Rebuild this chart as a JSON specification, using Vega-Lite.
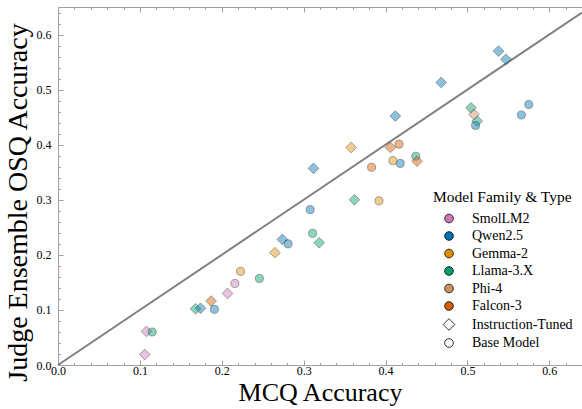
{
  "$schema": "https://vega.github.io/schema/vega-lite/v6.json",
  "width": 524,
  "height": 358,
  "autosize": {"type": "none"},
  "padding": {"left": 58, "top": 7, "right": 0, "bottom": 44},
  "background": "white",
  "config": {
    "font": "Liberation Serif",
    "view": {"stroke": null},
    "axis": {
      "grid": false,
      "domainColor": "#a0a0a0",
      "domainWidth": 1,
      "tickColor": "#a0a0a0",
      "tickWidth": 1,
      "labelFont": "Liberation Serif",
      "labelColor": "black",
      "labelFontSize": 12,
      "labelFlush": false,
      "labelOverlap": false,
      "titleFont": "Liberation Serif",
      "titleColor": "black",
      "titleFontWeight": "normal"
    },
    "legend": {
      "labelFont": "Liberation Serif",
      "titleFont": "Liberation Serif"
    }
  },
  "datasets": {
    "models": [
      {"family": "SmolLM2", "type": "Instruction-Tuned", "mcq": 0.106, "osq": 0.019},
      {"family": "SmolLM2", "type": "Instruction-Tuned", "mcq": 0.108, "osq": 0.061},
      {"family": "SmolLM2", "type": "Instruction-Tuned", "mcq": 0.207, "osq": 0.130},
      {"family": "SmolLM2", "type": "Base Model", "mcq": 0.216, "osq": 0.148},
      {"family": "Qwen2.5", "type": "Instruction-Tuned", "mcq": 0.174, "osq": 0.103},
      {"family": "Qwen2.5", "type": "Instruction-Tuned", "mcq": 0.274, "osq": 0.228},
      {"family": "Qwen2.5", "type": "Instruction-Tuned", "mcq": 0.312, "osq": 0.357},
      {"family": "Qwen2.5", "type": "Instruction-Tuned", "mcq": 0.412, "osq": 0.452},
      {"family": "Qwen2.5", "type": "Instruction-Tuned", "mcq": 0.468, "osq": 0.513},
      {"family": "Qwen2.5", "type": "Instruction-Tuned", "mcq": 0.538, "osq": 0.570},
      {"family": "Qwen2.5", "type": "Instruction-Tuned", "mcq": 0.547, "osq": 0.555},
      {"family": "Qwen2.5", "type": "Base Model", "mcq": 0.191, "osq": 0.101},
      {"family": "Qwen2.5", "type": "Base Model", "mcq": 0.281, "osq": 0.220},
      {"family": "Qwen2.5", "type": "Base Model", "mcq": 0.308, "osq": 0.282},
      {"family": "Qwen2.5", "type": "Base Model", "mcq": 0.418, "osq": 0.366},
      {"family": "Qwen2.5", "type": "Base Model", "mcq": 0.510, "osq": 0.435},
      {"family": "Qwen2.5", "type": "Base Model", "mcq": 0.566, "osq": 0.454},
      {"family": "Qwen2.5", "type": "Base Model", "mcq": 0.575, "osq": 0.473},
      {"family": "Gemma-2", "type": "Instruction-Tuned", "mcq": 0.265, "osq": 0.204},
      {"family": "Gemma-2", "type": "Instruction-Tuned", "mcq": 0.358, "osq": 0.395},
      {"family": "Gemma-2", "type": "Base Model", "mcq": 0.223, "osq": 0.170},
      {"family": "Gemma-2", "type": "Base Model", "mcq": 0.392, "osq": 0.298},
      {"family": "Gemma-2", "type": "Base Model", "mcq": 0.409, "osq": 0.371},
      {"family": "Llama-3.X", "type": "Instruction-Tuned", "mcq": 0.168, "osq": 0.102},
      {"family": "Llama-3.X", "type": "Instruction-Tuned", "mcq": 0.319, "osq": 0.222},
      {"family": "Llama-3.X", "type": "Instruction-Tuned", "mcq": 0.362, "osq": 0.300},
      {"family": "Llama-3.X", "type": "Instruction-Tuned", "mcq": 0.5045, "osq": 0.467},
      {"family": "Llama-3.X", "type": "Instruction-Tuned", "mcq": 0.512, "osq": 0.443},
      {"family": "Llama-3.X", "type": "Base Model", "mcq": 0.115, "osq": 0.060},
      {"family": "Llama-3.X", "type": "Base Model", "mcq": 0.246, "osq": 0.157},
      {"family": "Llama-3.X", "type": "Base Model", "mcq": 0.311, "osq": 0.239},
      {"family": "Llama-3.X", "type": "Base Model", "mcq": 0.437, "osq": 0.379},
      {"family": "Phi-4", "type": "Instruction-Tuned", "mcq": 0.508, "osq": 0.455},
      {"family": "Falcon-3", "type": "Instruction-Tuned", "mcq": 0.187, "osq": 0.116},
      {"family": "Falcon-3", "type": "Instruction-Tuned", "mcq": 0.406, "osq": 0.395},
      {"family": "Falcon-3", "type": "Instruction-Tuned", "mcq": 0.4385, "osq": 0.370},
      {"family": "Falcon-3", "type": "Base Model", "mcq": 0.383, "osq": 0.359},
      {"family": "Falcon-3", "type": "Base Model", "mcq": 0.4165, "osq": 0.401}
    ]
  },
  "layer": [
    {
      "description": "y = x reference line",
      "data": {"values": [{}]},
      "mark": {"type": "rule", "color": "#808080", "strokeWidth": 2},
      "encoding": {
        "x": {
          "datum": 0,
          "type": "quantitative",
          "scale": {"domain": [0, 0.64], "nice": false, "zero": false},
          "axis": {
            "orient": "top",
            "title": null,
            "labels": false,
            "values": [0, 0.02, 0.04, 0.06, 0.08, 0.1, 0.12, 0.14, 0.16, 0.18, 0.2, 0.22, 0.24, 0.26, 0.28, 0.3, 0.32, 0.34, 0.36, 0.38, 0.4, 0.42, 0.44, 0.46, 0.48, 0.5, 0.52, 0.54, 0.56, 0.58, 0.6, 0.62, 0.64],
            "tickSize": {"condition": {"test": "abs(datum.value * 10 - round(datum.value * 10)) < 0.001", "value": -5}, "value": -2.5}
          }
        },
        "y": {
          "datum": 0,
          "type": "quantitative",
          "scale": {"domain": [0, 0.65], "nice": false, "zero": false},
          "axis": {
            "orient": "left",
            "title": "Judge Ensemble OSQ Accuracy",
            "titleFont": "Liberation Serif",
            "titleFontSize": 28,
            "titleY": 195,
            "titlePadding": 4,
            "labelFont": "Liberation Serif",
            "labelPadding": 12,
            "values": [0, 0.02, 0.04, 0.06, 0.08, 0.1, 0.12, 0.14, 0.16, 0.18, 0.2, 0.22, 0.24, 0.26, 0.28, 0.3, 0.32, 0.34, 0.36, 0.38, 0.4, 0.42, 0.44, 0.46, 0.48, 0.5, 0.52, 0.54, 0.56, 0.58, 0.6, 0.62, 0.64],
            "labelExpr": "abs(datum.value * 10 - round(datum.value * 10)) < 0.001 ? format(datum.value, '.1f') : ''",
            "tickSize": {"condition": {"test": "abs(datum.value * 10 - round(datum.value * 10)) < 0.001", "value": -5}, "value": -2.5}
          }
        },
        "x2": {"datum": 0.64},
        "y2": {"datum": 0.64}
      }
    },
    {
      "data": {"name": "models"},
      "mark": {
        "type": "point",
        "filled": true,
        "fillOpacity": 0.45,
        "stroke": "#404040",
        "strokeOpacity": 0.55,
        "strokeWidth": 0.8
      },
      "encoding": {
        "x": {
          "field": "mcq",
          "type": "quantitative",
          "axis": {
            "orient": "bottom",
            "title": "MCQ Accuracy",
            "titleFont": "Liberation Serif",
            "titleFontSize": 26,
            "titleBaseline": "alphabetic",
            "titleY": 35.5,
            "labelFont": "Liberation Serif",
            "labelPadding": 5,
            "values": [0, 0.02, 0.04, 0.06, 0.08, 0.1, 0.12, 0.14, 0.16, 0.18, 0.2, 0.22, 0.24, 0.26, 0.28, 0.3, 0.32, 0.34, 0.36, 0.38, 0.4, 0.42, 0.44, 0.46, 0.48, 0.5, 0.52, 0.54, 0.56, 0.58, 0.6, 0.62, 0.64],
            "labelExpr": "abs(datum.value * 10 - round(datum.value * 10)) < 0.001 ? format(datum.value, '.1f') : ''",
            "tickSize": {"condition": {"test": "abs(datum.value * 10 - round(datum.value * 10)) < 0.001", "value": -5}, "value": -2.5}
          }
        },
        "y": {
          "field": "osq",
          "type": "quantitative",
          "axis": {
            "orient": "left",
            "title": "Judge Ensemble OSQ Accuracy",
            "titleFont": "Liberation Serif",
            "titleFontSize": 28,
            "titleY": 195,
            "titlePadding": 4,
            "labelFont": "Liberation Serif",
            "labelPadding": 12,
            "values": [0, 0.02, 0.04, 0.06, 0.08, 0.1, 0.12, 0.14, 0.16, 0.18, 0.2, 0.22, 0.24, 0.26, 0.28, 0.3, 0.32, 0.34, 0.36, 0.38, 0.4, 0.42, 0.44, 0.46, 0.48, 0.5, 0.52, 0.54, 0.56, 0.58, 0.6, 0.62, 0.64],
            "labelExpr": "abs(datum.value * 10 - round(datum.value * 10)) < 0.001 ? format(datum.value, '.1f') : ''",
            "tickSize": {"condition": {"test": "abs(datum.value * 10 - round(datum.value * 10)) < 0.001", "value": -5}, "value": -2.5}
          }
        },
        "color": {
          "field": "family",
          "type": "nominal",
          "scale": {
            "domain": ["SmolLM2", "Qwen2.5", "Gemma-2", "Llama-3.X", "Phi-4", "Falcon-3", "Instruction-Tuned", "Base Model"],
            "range": ["#cc78bc", "#0173b2", "#de8f05", "#029e73", "#ca9161", "#d55e00", "#ffffff", "#ffffff"]
          },
          "legend": {
            "orient": "none",
            "legendX": 375,
            "legendY": 183,
            "padding": 0,
            "title": "Model Family & Type",
            "titleFont": "Liberation Serif",
            "titleFontSize": 15.5,
            "titleFontWeight": "normal",
            "titleColor": "black",
            "titlePadding": 6,
            "labelFont": "Liberation Serif",
            "labelFontSize": 14,
            "labelColor": "black",
            "symbolSize": 130,
            "symbolOffset": 9,
            "labelOffset": 16,
            "rowPadding": 3.5,
            "symbolOpacity": 1,
            "symbolStrokeColor": "black",
            "symbolStrokeWidth": 0.8,
            "encode": {
              "symbols": {
                "update": {
                  "shape": {"signal": "datum.label === 'Instruction-Tuned' ? 'diamond' : 'circle'"},
                  "size": {"signal": "datum.label === 'Instruction-Tuned' ? 135 : 75"},
                  "fillOpacity": {"value": 1},
                  "opacity": {"value": 1},
                  "stroke": {"value": "black"},
                  "strokeWidth": {"value": 0.8}
                }
              }
            }
          }
        },
        "shape": {
          "field": "type",
          "type": "nominal",
          "scale": {"domain": ["Instruction-Tuned", "Base Model"], "range": ["diamond", "circle"]},
          "legend": null
        },
        "size": {
          "field": "type",
          "type": "nominal",
          "scale": {"domain": ["Instruction-Tuned", "Base Model"], "range": [115, 66]},
          "legend": null
        }
      }
    }
  ],
  "resolve": {"axis": {"x": "independent"}}
}
